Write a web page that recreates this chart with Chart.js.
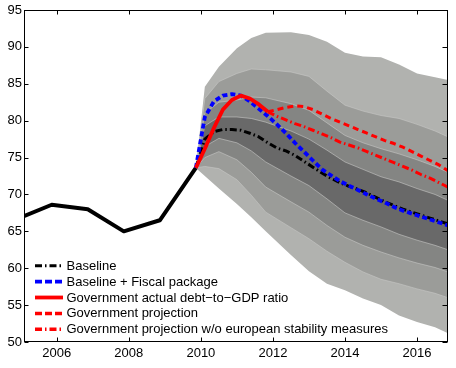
<!DOCTYPE html>
<html>
<head>
<meta charset="utf-8">
<script src="https://cdn.jsdelivr.net/npm/chart.js@4.4.1/dist/chart.umd.min.js"></script>
<style>
  html, body { margin: 0; padding: 0; background: #ffffff; }
  #wrap { width: 456px; height: 368px; }
</style>
</head>
<body>
<div id="wrap"><canvas id="c" width="456" height="368"></canvas></div>
<script>
// ---------- data ----------
const xTickYears = [2006, 2008, 2010, 2012, 2014, 2016];
const yTickValues = [50, 55, 60, 65, 70, 75, 80, 85, 90, 95];

const seriesLabels = [
  'Baseline',
  'Baseline + Fiscal package',
  'Government actual debt\u2212to\u2212GDP ratio',
  'Government projection',
  'Government projection w/o european stability measures'
];

// historical debt-to-GDP ratio
const histYears = [2004.86, 2005.86, 2006.86, 2007.86, 2008.86, 2009.86];
const histDebt  = [66.6, 68.6, 68.0, 65.0, 66.5, 73.6];

// quarterly projection dates
const projYears = [2009.86, 2010.11, 2010.36, 2010.61, 2010.86, 2011.11, 2011.36, 2011.61, 2011.86,
  2012.11, 2012.36, 2012.61, 2012.86, 2013.11, 2013.36, 2013.61, 2013.86,
  2014.11, 2014.36, 2014.61, 2014.86, 2015.11, 2015.36, 2015.61, 2015.86,
  2016.11, 2016.36, 2016.61, 2016.86];
const baseline = [73.6, 77.5, 78.5, 78.8, 78.8, 78.7, 78.3, 77.8, 77.0,
  76.3, 75.9, 75.3, 74.5, 73.7, 72.9, 72.2, 71.6,
  71.1, 70.7, 70.2, 69.6, 69.0, 68.5, 68.0, 67.6,
  67.2, 66.8, 66.4, 66.0];
const fiscalPackage = [73.6, 80.5, 82.6, 83.4, 83.6, 83.4, 82.6, 81.6, 80.6,
  79.5, 78.3, 77.0, 75.8, 74.6, 73.4, 72.6, 71.8,
  71.2, 70.6, 70.0, 69.4, 68.9, 68.3, 67.8, 67.4,
  67.0, 66.6, 66.2, 65.8];

// government actual
const actualYears = [2009.86, 2010.11, 2010.36, 2010.61, 2010.86, 2011.11, 2011.36, 2011.61, 2011.86];
const actualDebt  = [73.6, 76.2, 79.0, 81.5, 82.8, 83.4, 83.0, 82.2, 81.2];

// government projections
const govYears = [2011.86, 2012.11, 2012.36, 2012.61, 2012.86, 2013.11, 2013.36, 2013.61, 2013.86,
  2014.11, 2014.36, 2014.61, 2014.86, 2015.11, 2015.36, 2015.61, 2015.86,
  2016.11, 2016.36, 2016.61, 2016.86];
const govProjection = [81.2, 81.5, 81.8, 82.0, 81.9, 81.5, 80.9, 80.3, 79.8,
  79.3, 78.8, 78.3, 77.8, 77.3, 76.9, 76.4, 75.8,
  75.2, 74.6, 74.0, 73.2];
const govProjectionNoESM = [81.2, 80.6, 80.1, 79.6, 79.2, 78.7, 78.2, 77.7, 77.1,
  76.7, 76.3, 75.8, 75.3, 74.8, 74.3, 73.8, 73.3,
  72.7, 72.2, 71.6, 71.0];

// fan chart band boundaries
const fanYears = [2009.86, 2010.11, 2010.5, 2011, 2011.4, 2011.8, 2012.5, 2013, 2013.5, 2014, 2014.5, 2015, 2015.5, 2016, 2016.5, 2016.86];
const fanTop = [73.6, 84.6, 87.3, 89.8, 91.2, 91.9, 92.0, 91.6, 90.7, 89.2, 88.7, 88.6, 87.6, 86.4, 85.9, 85.5];
const fanB1  = [73.6, 83.0, 85.3, 86.4, 87.0, 86.9, 86.6, 86.0, 84.0, 82.1, 81.3, 80.7, 80.3, 79.5, 78.6, 77.8];
const fanB2  = [73.6, 81.0, 82.5, 82.8, 83.2, 83.1, 82.3, 81.4, 79.7, 78.0, 77.0, 76.2, 75.5, 74.7, 73.8, 73.0];
const fanB3  = [73.6, 79.3, 80.5, 80.5, 80.3, 79.8, 78.6, 77.5, 76.0, 74.4, 73.4, 72.4, 71.7, 70.8, 70.0, 69.2];
const fanB4  = [73.6, 76.5, 77.6, 77.0, 75.9, 74.4, 72.5, 71.2, 69.4, 67.5, 66.5, 65.6, 64.6, 63.8, 63.1, 62.5];
const fanB5  = [73.6, 75.0, 75.8, 74.7, 73.0, 71.0, 69.0, 67.6, 65.8, 64.2, 63.1, 62.2, 61.4, 60.7, 60.1, 59.5];
const fanB6  = [73.6, 73.8, 73.5, 72.0, 69.9, 67.6, 65.5, 64.0, 62.3, 60.8, 59.5, 58.5, 57.9, 57.2, 56.6, 56.0];
const fanBot = [73.6, 72.5, 70.8, 68.7, 66.9, 65.0, 61.8, 59.6, 57.9, 57.0, 55.9, 55.0, 53.6, 52.7, 52.0, 51.2];

// ---------- helpers ----------
const pts = (xs, ys) => xs.map((x, i) => ({ x: x, y: ys[i] }));
const FONT = '"Liberation Sans", Arial, Helvetica, sans-serif';
const SEP = 'rgba(200,200,198,0.75)';

function band(data, opts) {
  return Object.assign({
    data: data, pointRadius: 0, borderWidth: 0, borderColor: 'rgba(0,0,0,0)',
    fill: false, tension: 0
  }, opts);
}
function line(label, data, color, width, dash, order) {
  return {
    label: label, data: data, borderColor: color, backgroundColor: color,
    borderWidth: width, borderDash: dash, pointRadius: 0, fill: false,
    tension: 0, order: order, borderCapStyle: 'butt', borderJoinStyle: 'round'
  };
}

const dashDot = [7, 3, 1.5, 3];

const datasets = [
  band(pts(fanYears, fanBot), { order: 16 }),                                                  // 0
  band(pts(fanYears, fanTop), { order: 20, fill: 0, backgroundColor: '#b1b2af' }),              // 1
  band(pts(fanYears, fanB6),  { order: 15, borderWidth: 0.8, borderColor: SEP }),               // 2
  band(pts(fanYears, fanB1),  { order: 19, fill: 2, backgroundColor: '#9b9c99', borderWidth: 0.8, borderColor: SEP }), // 3
  band(pts(fanYears, fanB5),  { order: 15, borderWidth: 0.8, borderColor: SEP }),               // 4
  band(pts(fanYears, fanB2),  { order: 18, fill: 4, backgroundColor: '#848583', borderWidth: 0.8, borderColor: SEP }), // 5
  band(pts(fanYears, fanB4),  { order: 15, borderWidth: 0.8, borderColor: SEP }),               // 6
  band(pts(fanYears, fanB3),  { order: 17, fill: 6, backgroundColor: '#696969', borderWidth: 0.8, borderColor: SEP }), // 7
  line('history', pts(histYears, histDebt), '#000000', 4, [], 8),
  line(seriesLabels[0], pts(projYears, baseline), '#000000', 3, dashDot, 7),
  line(seriesLabels[1], pts(projYears, fiscalPackage), '#0000ff', 3.8, [5, 3], 6),
  line(seriesLabels[2], pts(actualYears, actualDebt), '#ff0000', 3.8, [], 5),
  line(seriesLabels[3], pts(govYears, govProjection), '#ff0000', 3, [6, 4], 4),
  line(seriesLabels[4], pts(govYears, govProjectionNoESM), '#ff0000', 3, dashDot, 3)
];

const legendStyles = [
  { color: '#000000', width: 3, dash: dashDot },
  { color: '#0000ff', width: 3.8, dash: [7, 3] },
  { color: '#ff0000', width: 3.8, dash: [] },
  { color: '#ff0000', width: 3.5, dash: [7, 3] },
  { color: '#ff0000', width: 3.5, dash: dashDot }
];

const framePlugin = {
  id: 'frame',
  afterDatasetsDraw(chart) {
    const ctx = chart.ctx, a = chart.chartArea;
    const xs = chart.scales.x, ys = chart.scales.y;
    ctx.save();
    ctx.strokeStyle = '#000';
    ctx.lineWidth = 1;
    ctx.setLineDash([]);
    const L = Math.round(a.left) + 0.5, R = Math.round(a.right) - 0.5;
    const T = Math.round(a.top) + 0.5, B = Math.round(a.bottom) - 0.5;
    ctx.strokeRect(L, T, R - L, B - T);
    ctx.beginPath();
    xTickYears.forEach(v => {
      const px = Math.round(xs.getPixelForValue(v)) + 0.5;
      ctx.moveTo(px, T); ctx.lineTo(px, T + 4);
      ctx.moveTo(px, B); ctx.lineTo(px, B - 4);
    });
    yTickValues.forEach(v => {
      const py = Math.round(ys.getPixelForValue(v)) + 0.5;
      ctx.moveTo(R, py); ctx.lineTo(R - 5, py);
      ctx.moveTo(L, py); ctx.lineTo(L + 4, py);
    });
    ctx.stroke();

    // legend
    const x0 = 35, x1 = 63, tx = 66.5, y0 = 265.7, dy = 15.9;
    ctx.font = '13px ' + FONT;
    ctx.textBaseline = 'middle';
    ctx.textAlign = 'left';
    seriesLabels.forEach((lab, i) => {
      const st = legendStyles[i];
      const y = y0 + i * dy;
      ctx.beginPath();
      ctx.strokeStyle = st.color;
      ctx.lineWidth = st.width;
      ctx.lineCap = 'butt';
      ctx.setLineDash(st.dash);
      ctx.moveTo(x0, y); ctx.lineTo(x1, y);
      ctx.stroke();
      ctx.setLineDash([]);
      ctx.fillStyle = '#000';
      ctx.fillText(lab, tx, y + 0.5);
    });
    ctx.restore();
  }
};

new Chart(document.getElementById('c'), {
  type: 'line',
  data: { datasets: datasets },
  options: {
    responsive: false,
    devicePixelRatio: 1,
    animation: false,
    events: [],
    layout: { padding: { left: 0, top: 10, right: 8, bottom: 0 } },
    plugins: {
      legend: { display: false },
      tooltip: { enabled: false },
      filler: { drawTime: 'beforeDatasetsDraw', propagate: false }
    },
    scales: {
      x: {
        type: 'linear', min: 2005.09, max: 2016.86,
        grid: { display: false, drawTicks: false },
        border: { display: false },
        afterBuildTicks: s => { s.ticks = xTickYears.map(v => ({ value: v })); },
        afterFit: s => { s.height = 26; },
        ticks: { color: '#000', font: { family: FONT, size: 13 }, padding: 4, maxRotation: 0,
                 callback: v => String(v) }
      },
      y: {
        type: 'linear', min: 50, max: 95,
        grid: { display: false, drawTicks: false },
        border: { display: false },
        afterBuildTicks: s => { s.ticks = yTickValues.map(v => ({ value: v })); },
        afterFit: s => { s.width = 24; },
        ticks: { color: '#000', font: { family: FONT, size: 13 }, padding: 2,
                 callback: v => String(v) }
      }
    }
  },
  plugins: [framePlugin]
});
</script>
</body>
</html>
